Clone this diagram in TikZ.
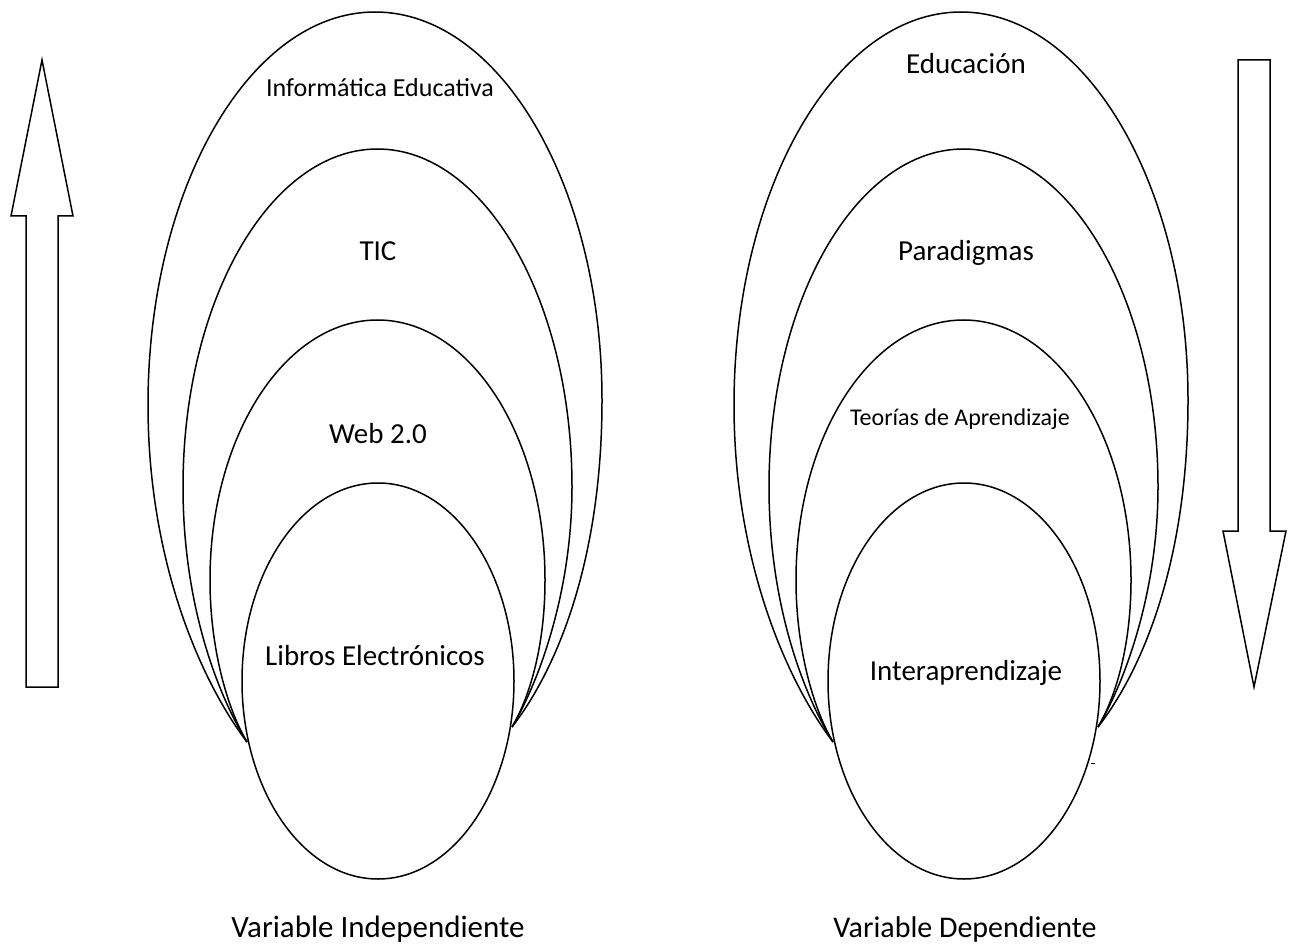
\documentclass[tikz,border=0pt]{standalone}
\usepackage{fontspec}
\setmainfont{Carlito}
\usetikzlibrary{shapes.geometric}
\tikzset{
  line/.style={line width=1.5pt, draw=black},
  lbl/.style={anchor=base, inner sep=0pt, font=\fontsize{29}{34}\selectfont},
  inner/.style={line, ellipse, minimum width=272pt, minimum height=396pt, inner sep=0pt},
}
\begin{document}
\begin{tikzpicture}[x=1pt, y=-1pt]
\useasboundingbox (0,0) rectangle (1296,949);

% ---------- left nest ----------
\coordinate (pl) at (247,742);
\coordinate (pr) at (512,727);
\draw[line] (pl) .. controls (200,680) and (148,560) .. (148,405)
  .. controls (148,188) and (250,12) .. (375,12)
  .. controls (500,12) and (602,186) .. (602,400)
  .. controls (602,555) and (560,665) .. (pr);
\draw[line] (pl) .. controls (215,690) and (183,600) .. (183,487)
  .. controls (183,300) and (270.5,149) .. (377.5,149)
  .. controls (484.5,149) and (572,300) .. (572,487)
  .. controls (572,590) and (540,680) .. (pr);
\draw[line] (pl) .. controls (228,710) and (210,650) .. (210,580)
  .. controls (210,436) and (285,320) .. (377.5,320)
  .. controls (470,320) and (545,436) .. (545,580)
  .. controls (545,650) and (528,700) .. (pr);
\node[inner] (libros) at (378,681) {};

% ---------- right nest ----------
\begin{scope}[xshift=586pt]
\coordinate (ql) at (247,742);
\coordinate (qr) at (512,727);
\draw[line] (ql) .. controls (200,680) and (148,560) .. (148,405)
  .. controls (148,188) and (250,12) .. (375,12)
  .. controls (500,12) and (602,186) .. (602,400)
  .. controls (602,555) and (560,665) .. (qr);
\draw[line] (ql) .. controls (215,690) and (183,600) .. (183,487)
  .. controls (183,300) and (270.5,149) .. (377.5,149)
  .. controls (484.5,149) and (572,300) .. (572,487)
  .. controls (572,590) and (540,680) .. (qr);
\draw[line] (ql) .. controls (228,710) and (210,650) .. (210,580)
  .. controls (210,436) and (285,320) .. (377.5,320)
  .. controls (470,320) and (545,436) .. (545,580)
  .. controls (545,650) and (528,700) .. (qr);
\node[inner] (interel) at (378,681) {};
\end{scope}
\draw[line width=0.8pt] (1091,763) -- (1095,763);

% ---------- arrows ----------
\draw[line, line join=miter] (26,687) -- (26,216) -- (11,216) -- (42,60) -- (73,216) -- (58,216) -- (58,687) -- cycle;
\draw[line, line join=miter] (1238,60) -- (1270,60) -- (1270,531) -- (1286,531) -- (1254,687) -- (1223,531) -- (1238,531) -- cycle;

% ---------- labels ----------
\node[lbl, font=\fontsize{26}{30}\selectfont] (infedu) at (380,97) {Informática Educativa};
\node[lbl] (tic) at (378,261) {TIC};
\node[lbl] (web) at (378,443) {Web 2.0};
\node[lbl] (librost) at (375,665) {Libros Electrónicos};
\node[lbl] (educ) at (966,74) {Educación};
\node[lbl] (parad) at (966,261) {Paradigmas};
\node[lbl, font=\fontsize{24}{28}\selectfont] (teorias) at (960,426) {Teorías de Aprendizaje};
\node[lbl] (interap) at (966,680) {Interaprendizaje};
\node[lbl, font=\fontsize{31}{36}\selectfont] (vi) at (378,937) {Variable Independiente};
\node[lbl, font=\fontsize{30}{35}\selectfont] (vd) at (965,937) {Variable Dependiente};
\end{tikzpicture}
\end{document}
